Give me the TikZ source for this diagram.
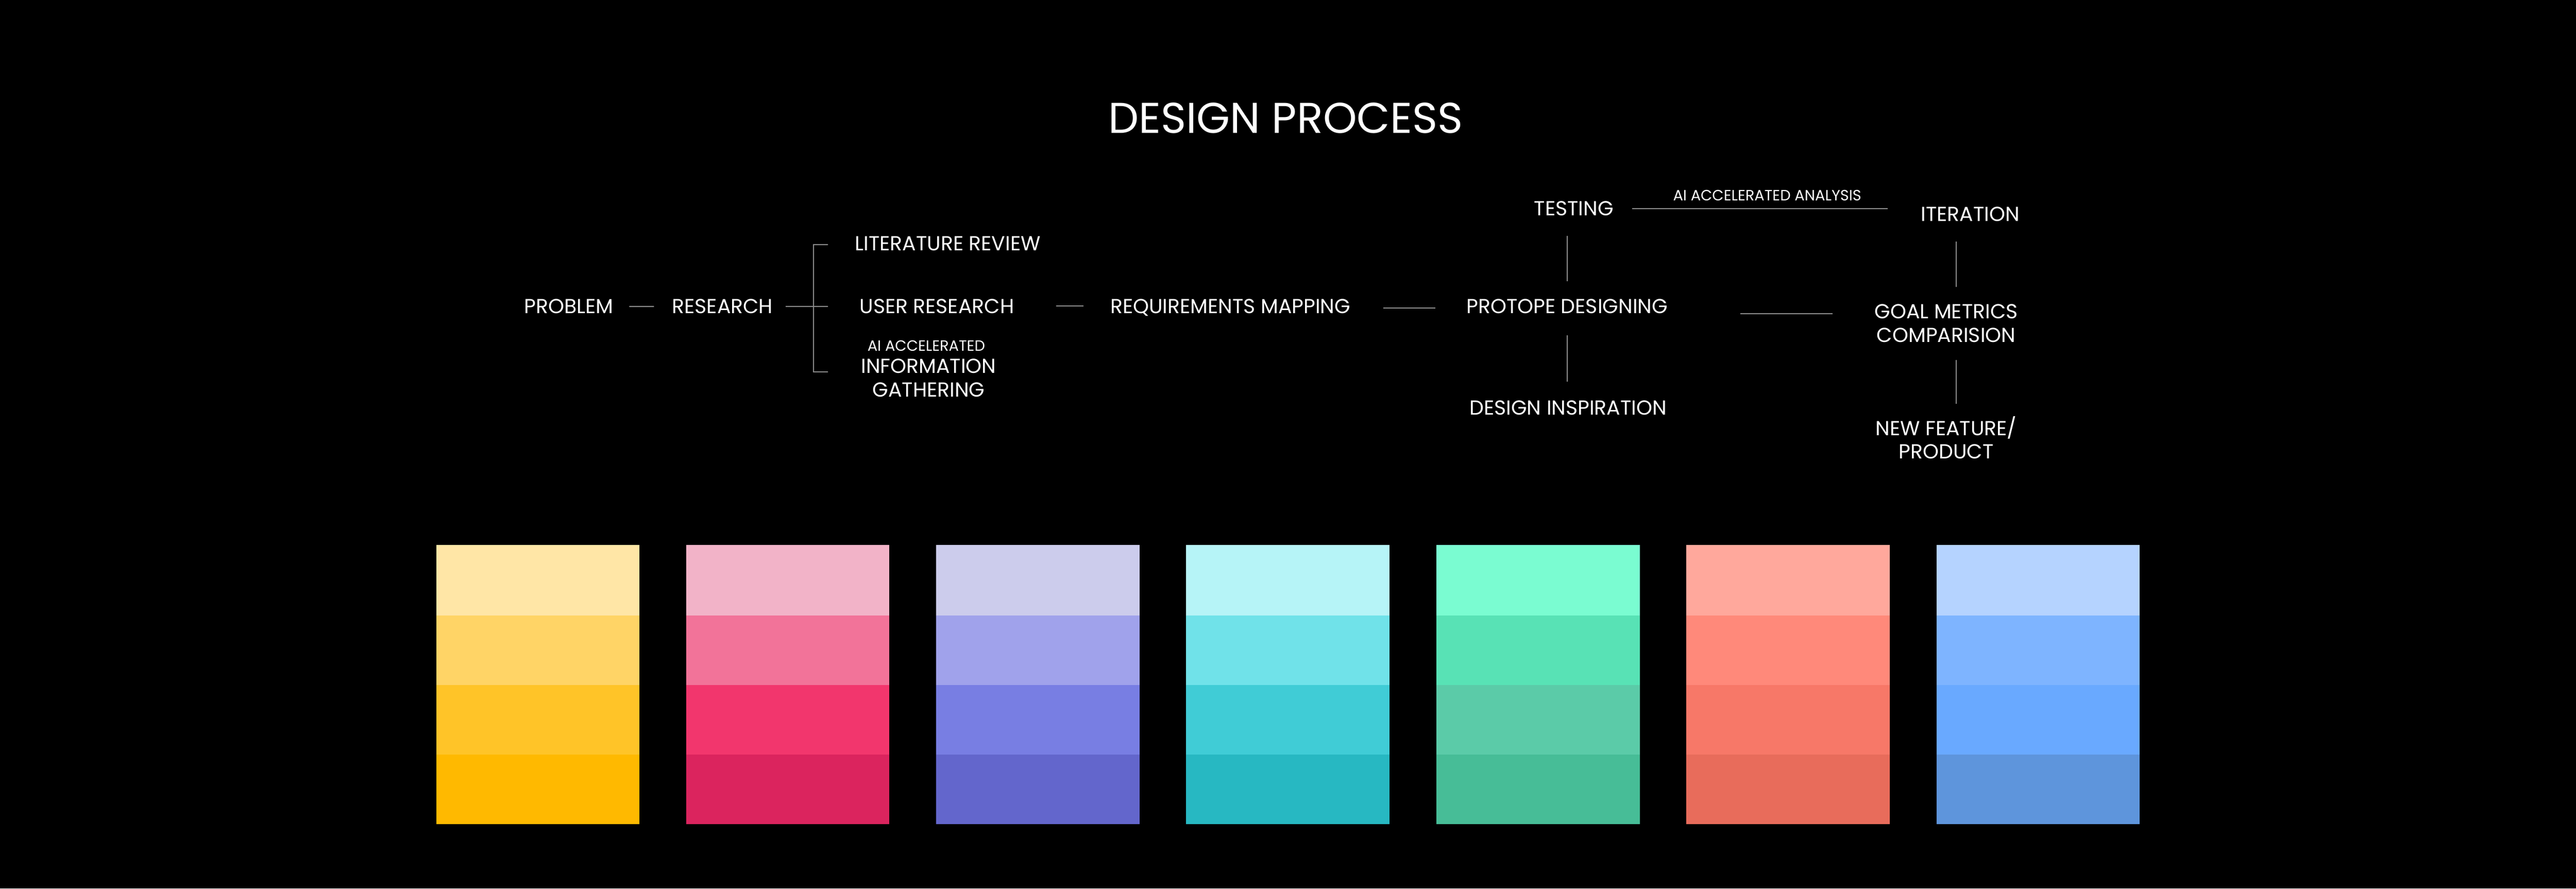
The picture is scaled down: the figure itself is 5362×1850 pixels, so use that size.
\documentclass[tikz,border=0pt]{standalone}
\usepackage{fontspec}
\setmainfont{Poppins}
\usepackage{tikz}
\usetikzlibrary{calc}

\definecolor{linegrey}{HTML}{8C8C8C}
\definecolor{yelA}{HTML}{FFE6A6}
\definecolor{yelB}{HTML}{FFD466}
\definecolor{yelC}{HTML}{FFC428}
\definecolor{yelD}{HTML}{FFB900}
\definecolor{pinkA}{HTML}{F2B3C8}
\definecolor{pinkB}{HTML}{F27399}
\definecolor{pinkC}{HTML}{F2366D}
\definecolor{pinkD}{HTML}{DB245E}
\definecolor{purA}{HTML}{CCCCEC}
\definecolor{purB}{HTML}{A0A2EB}
\definecolor{purC}{HTML}{787EE3}
\definecolor{purD}{HTML}{6366CC}
\definecolor{cyanA}{HTML}{B6F4F7}
\definecolor{cyanB}{HTML}{70E2E9}
\definecolor{cyanC}{HTML}{40CCD6}
\definecolor{cyanD}{HTML}{27B8C2}
\definecolor{greenA}{HTML}{7AFCD1}
\definecolor{greenB}{HTML}{58E2B5}
\definecolor{greenC}{HTML}{5BCBA8}
\definecolor{greenD}{HTML}{47BD97}
\definecolor{redA}{HTML}{FFA89C}
\definecolor{redB}{HTML}{FF897A}
\definecolor{redC}{HTML}{F77868}
\definecolor{redD}{HTML}{E86C5B}
\definecolor{blueA}{HTML}{B5D3FF}
\definecolor{blueB}{HTML}{7EB4FF}
\definecolor{blueC}{HTML}{69A9FF}
\definecolor{blueD}{HTML}{5E95DC}

\begin{document}
\begin{tikzpicture}[x=0.01cm, y=-0.01cm,
		stage/.style={text=white, inner sep=0pt, outer sep=0pt, align=center, font=\fontsize{12}{13.9}\selectfont},
		note/.style={stage, font=\fontsize{8.8}{10}\selectfont},
		conn/.style={draw=linegrey, line width=0.6pt}]
			%%%%% START %%%%%
			
			\fill[black] (0,0) rectangle (5362,1850);
			\useasboundingbox (0,0) rectangle (5362,1850);
			
			\node[stage, anchor=base, font=\fontsize{25.5}{30}\selectfont] (title) at (2676,277) {DESIGN PROCESS};
			
			\node[stage, anchor=base] (problem) at (1184,653) {PROBLEM};
			\node[stage, anchor=base] (research) at (1504,653) {RESEARCH};
			\node[stage, anchor=base] (litrev) at (1973,522) {LITERATURE REVIEW};
			\node[stage, anchor=base] (userres) at (1950,652) {USER RESEARCH};
			\node[note, anchor=base] (aiinfo) at (1928,731) {AI ACCELERATED};
			\node[stage] (info) at (1933,787) {INFORMATION\\GATHERING};
			\node[stage, anchor=base] (reqmap) at (2561,653) {REQUIREMENTS MAPPING};
			\node[stage, anchor=base] (protope) at (3262,653) {PROTOPE DESIGNING};
			\node[stage, anchor=base] (testing) at (3276,449) {TESTING};
			\node[stage, anchor=base] (inspire) at (3264,864) {DESIGN INSPIRATION};
			\node[stage, anchor=base] (iteration) at (4101,461) {ITERATION};
			\node[stage] (goal) at (4051,673) {GOAL METRICS\\COMPARISION};
			\node[stage] (newfeat) at (4051,911) {NEW FEATURE/\\PRODUCT};
			
			\coordinate (brkT) at (1723,509);
			\coordinate (brkM) at (1723,640);
			\coordinate (brkB) at (1723,774);
			
			\draw[conn, shorten <=9.4pt, shorten >=10.8pt] (problem) -- (research);
			\draw[conn, shorten <=7.7pt] (research.east) -- (research.east -| brkM);
			\draw[conn] (brkT) -- ++(-30,0) |- (brkB);
			\draw[conn, shorten <=25pt, shorten >=16pt] (userres.east) -- (userres.east -| reqmap.west);
			\draw[conn, shorten <=19.6pt, shorten >=18.5pt] (reqmap.east) -- (reqmap.east -| protope.west);
			\draw[conn, shorten <=10.8pt, shorten >=12pt] (protope.north) -- (protope.north |- testing.south);
			\draw[conn, shorten <=12.8pt, shorten >=11.4pt] (protope.south) -- (protope.south |- inspire.north);
			\draw[conn, shorten <=11pt, shorten >=19.6pt] (testing.east) -- (testing.east -| iteration.west)
				node[midway, above=4.5pt, note] (analysis) {AI ACCELERATED ANALYSIS};
			\draw[conn, shorten <=43pt, shorten >=25pt] (protope.south east) -- (protope.south east -| goal.west);
			\draw[conn, shorten <=10.2pt, shorten >=11.7pt] ([xshift=0.21cm]goal.north) -- ([xshift=0.21cm]goal.north |- iteration.south);
			\draw[conn, shorten <=10.5pt, shorten >=7.4pt] ([xshift=0.21cm]goal.south) -- ([xshift=0.21cm]goal.south |- newfeat.north);
			
			% swatches
			\fill[yelA] (908,1135) rectangle (1331,1281);
			\fill[yelB] (908,1281) rectangle (1331,1426);
			\fill[yelC] (908,1426) rectangle (1331,1571);
			\fill[yelD] (908,1571) rectangle (1331,1716);
			
			\fill[pinkA] (1428,1135) rectangle (1851,1281);
			\fill[pinkB] (1428,1281) rectangle (1851,1426);
			\fill[pinkC] (1428,1426) rectangle (1851,1571);
			\fill[pinkD] (1428,1571) rectangle (1851,1716);
			
			\fill[purA] (1949,1135) rectangle (2372,1281);
			\fill[purB] (1949,1281) rectangle (2372,1426);
			\fill[purC] (1949,1426) rectangle (2372,1571);
			\fill[purD] (1949,1571) rectangle (2372,1716);
			
			\fill[cyanA] (2469,1135) rectangle (2892,1281);
			\fill[cyanB] (2469,1281) rectangle (2892,1426);
			\fill[cyanC] (2469,1426) rectangle (2892,1571);
			\fill[cyanD] (2469,1571) rectangle (2892,1716);
			
			\fill[greenA] (2990,1135) rectangle (3413,1281);
			\fill[greenB] (2990,1281) rectangle (3413,1426);
			\fill[greenC] (2990,1426) rectangle (3413,1571);
			\fill[greenD] (2990,1571) rectangle (3413,1716);
			
			\fill[redA] (3510,1135) rectangle (3933,1281);
			\fill[redB] (3510,1281) rectangle (3933,1426);
			\fill[redC] (3510,1426) rectangle (3933,1571);
			\fill[redD] (3510,1571) rectangle (3933,1716);
			
			\fill[blueA] (4031,1135) rectangle (4454,1281);
			\fill[blueB] (4031,1281) rectangle (4454,1426);
			\fill[blueC] (4031,1426) rectangle (4454,1571);
			\fill[blueD] (4031,1571) rectangle (4454,1716);
			
			%%%%% END %%%%%
\end{tikzpicture}
\end{document}
